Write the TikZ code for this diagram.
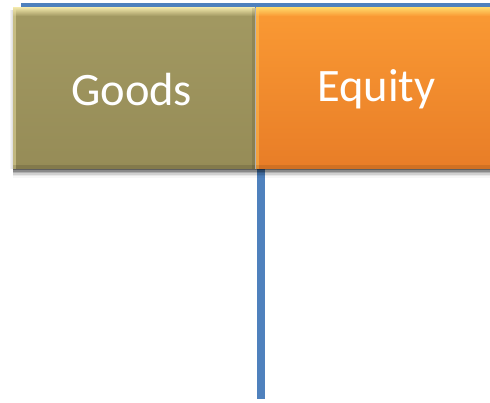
\documentclass[tikz,border=0pt]{standalone}
\usepackage{fontspec}
\setmainfont{Carlito}
\usetikzlibrary{calc}
\definecolor{lineblue}{HTML}{4F81BD}
\definecolor{olive}{HTML}{9F955F}
\definecolor{olivetop}{HTML}{A29962}
\definecolor{olivebot}{HTML}{968C57}
\definecolor{olivelight}{HTML}{ECE2A6}
\definecolor{orangemain}{HTML}{F7922F}
\definecolor{orangetop}{HTML}{FA9A34}
\definecolor{orangebot}{HTML}{E87D27}
\definecolor{orangelight}{HTML}{FFD466}
\tikzset{
  blueline/.style={draw=lineblue, line width=7.5pt},
  topline/.style={draw=lineblue, line width=4.5pt},
  boxlabel/.style={text=white, font=\fontsize{46.5}{52}\selectfont, inner sep=0pt},
}
\begin{document}
\begin{tikzpicture}[x=1pt,y=-1pt]
\useasboundingbox (0,0) rectangle (490,403);
\fill[white] (0,0) rectangle (490,403);
% connector coordinates
\coordinate (hl) at (21,5.5);
\coordinate (hr) at (495,5.5);
\coordinate (vt) at (261,5);
\coordinate (vb) at (261,399);
\draw[topline] (hl) -- (hr);
\draw[blueline] (vt) -- (vb);
% shadows
\foreach \i/\o in {0/0.30,1.5/0.22,3/0.15,4.5/0.10,6/0.06,8/0.03}{
  \fill[black, opacity=\o] (13,169) rectangle (500,169+\i+1.5);
}
\foreach \i/\o in {0/0.12,1/0.08,2/0.04}{
  \fill[black, opacity=\o] (13-\i-1,10) rectangle (13-\i,169);
}
% Goods box
\shade[top color=olivetop, bottom color=olivebot] (13,8) rectangle (255,169);
\shade[top color=olivelight, bottom color=olivetop] (13,8) rectangle (255,16);
\fill[olivelight, opacity=0.5] (13,8) rectangle (16,169);
\fill[black, opacity=0.12] (13,165) rectangle (255,169);
\fill[black, opacity=0.10] (252,8) rectangle (255,169);
\fill[gray!60] (255,8) rectangle (256,169);
% Equity box
\shade[top color=orangetop, bottom color=orangebot] (256,8) rectangle (495,169);
\shade[top color=orangelight, bottom color=orangetop] (256,8) rectangle (495,16);
\fill[orangelight, opacity=0.4] (256,8) rectangle (259,169);
\fill[black, opacity=0.10] (256,165) rectangle (495,169);
% labels
\node[boxlabel] (goods) at (131.7,89.5) {Goods};
\node[boxlabel] (equity) at (376.5,89.5) {Equity};
\end{tikzpicture}
\end{document}
